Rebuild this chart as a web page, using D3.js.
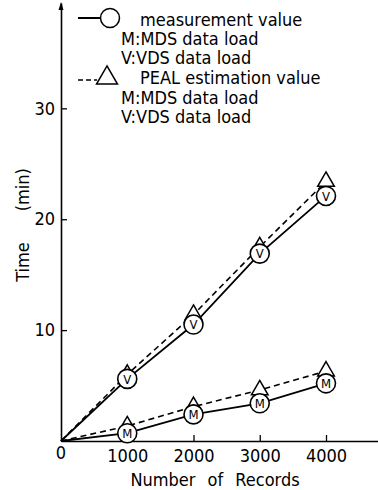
<!DOCTYPE html>
<html>
<head>
<meta charset="utf-8">
<script src="https://cdn.jsdelivr.net/npm/d3@7"></script>
<style>
  body { margin: 0; background: #fff; }
  svg { display: block; }
  text { font-family: "Liberation Sans Narrow", "DejaVu Sans Condensed", "Liberation Sans", sans-serif; fill: #000; }
</style>
</head>
<body>
<script>
// ---- data ----
var records = [0, 1000, 2000, 3000, 4000];
var vdsMeasured = [0, 5.6, 10.5, 16.9, 22.1];
var vdsEstimate = [0, 6.0, 11.4, 17.5, 23.4];
var mdsMeasured = [0, 0.7, 2.4, 3.4, 5.2];
var mdsEstimate = [0, 1.35, 3.1, 4.6, 6.3];
var xTicks = [1000, 2000, 3000, 4000];
var yTicks = [10, 20, 30];
var legendLines = [
    {text: "measurement value", x: 140, y: 20},
    {text: "M:MDS data load", x: 121, y: 39},
    {text: "V:VDS data load", x: 121, y: 58},
    {text: "PEAL estimation value", x: 140, y: 78},
    {text: "M:MDS data load", x: 121, y: 98},
    {text: "V:VDS data load", x: 121, y: 117}
];

var W = 378, H = 490;
var svg = d3.select("body").append("svg")
    .attr("width", W)
    .attr("height", H);

// scales
var x = d3.scaleLinear().domain([0, 4800]).range([61, 379]);
var y = d3.scaleLinear().domain([0, 39.5]).range([441, 3]);

// axes (ticks point inward)
var gx = svg.append("g")
    .attr("transform", "translate(0," + y(0) + ")")
    .call(d3.axisBottom(x).tickValues(xTicks).tickFormat(d3.format("d"))
        .tickSize(-6).tickPadding(5).tickSizeOuter(0));
var gy = svg.append("g")
    .attr("transform", "translate(" + x(0) + ",0)")
    .call(d3.axisLeft(y).tickValues(yTicks).tickSize(-6).tickPadding(6).tickSizeOuter(0));

[gx, gy].forEach(function(g) {
    g.select(".domain").attr("stroke", "#000").attr("stroke-width", 1.6);
    g.selectAll(".tick line").attr("stroke", "#000").attr("stroke-width", 1.3);
    g.selectAll(".tick text").style("font-size", "18px").attr("fill", "#000");
});
gx.selectAll(".tick text").attr("dy", "0.9em");

// lone zero at the origin
svg.append("text")
    .attr("x", x(0))
    .attr("y", y(0) + 18)
    .attr("text-anchor", "middle")
    .style("font-size", "18px")
    .text("0");

// arrow head on y axis
svg.append("path")
    .attr("d", d3.line()([[x(0) - 2.5, 10], [x(0), 2], [x(0) + 2.5, 10]]))
    .attr("fill", "#000");

// axis titles
svg.append("text")
    .attr("x", 215)
    .attr("y", 486)
    .attr("text-anchor", "middle")
    .style("font-size", "18px")
    .style("word-spacing", "7px")
    .text("Number of Records");

svg.append("text")
    .attr("transform", "translate(29,225) rotate(-90)")
    .attr("text-anchor", "middle")
    .style("font-size", "18px")
    .style("white-space", "pre")
    .text("Time      (min)");

// lines
var line = d3.line()
    .x(function(d) { return x(d[0]); })
    .y(function(d) { return y(d[1]); });

function series(vals) {
    return records.map(function(r, i) { return [r, vals[i]]; });
}

[vdsEstimate, mdsEstimate].forEach(function(v) {
    svg.append("path")
        .attr("d", line(series(v)))
        .attr("fill", "none")
        .attr("stroke", "#000")
        .attr("stroke-width", 1.6)
        .attr("stroke-dasharray", "6,4");
});
[vdsMeasured, mdsMeasured].forEach(function(v) {
    svg.append("path")
        .attr("d", line(series(v)))
        .attr("fill", "none")
        .attr("stroke", "#000")
        .attr("stroke-width", 1.8);
});

// triangle markers (estimates), behind circles
var tri = d3.symbol().type(d3.symbolTriangle).size(120);
[vdsEstimate, mdsEstimate].forEach(function(v) {
    svg.selectAll(null)
        .data(series(v).slice(1))
        .join("path")
            .attr("d", tri)
            .attr("transform", function(d) { return "translate(" + x(d[0]) + "," + y(d[1]) + ")"; })
            .attr("fill", "#fff")
            .attr("stroke", "#000")
            .attr("stroke-width", 1.5);
});

// circle markers (measurements)
[[vdsMeasured, "V"], [mdsMeasured, "M"]].forEach(function(s) {
    var g = svg.selectAll(null)
        .data(series(s[0]).slice(1))
        .join("g")
            .attr("transform", function(d) { return "translate(" + x(d[0]) + "," + y(d[1]) + ")"; });
    g.append("circle")
        .attr("r", 9.5)
        .attr("fill", "#fff")
        .attr("stroke", "#000")
        .attr("stroke-width", 1.6);
    g.append("text")
        .attr("text-anchor", "middle")
        .attr("dy", "0.36em")
        .style("font-size", "13px")
        .text(s[1]);
});

// legend
svg.append("line")
    .attr("x1", 78).attr("x2", 101).attr("y1", 18).attr("y2", 18)
    .attr("stroke", "#000").attr("stroke-width", 2);
svg.append("circle")
    .attr("cx", 110).attr("cy", 18).attr("r", 9.5)
    .attr("fill", "#fff").attr("stroke", "#000").attr("stroke-width", 1.5);
svg.append("line")
    .attr("x1", 78).attr("x2", 97).attr("y1", 80).attr("y2", 80)
    .attr("stroke", "#000").attr("stroke-width", 1.5)
    .attr("stroke-dasharray", "5,3");
svg.append("path")
    .attr("d", d3.symbol().type(d3.symbolTriangle).size(190))
    .attr("transform", "translate(107,78)")
    .attr("fill", "#fff").attr("stroke", "#000").attr("stroke-width", 1.5);

svg.selectAll(null)
    .data(legendLines)
    .join("text")
        .attr("x", function(d) { return d.x; })
        .attr("y", function(d) { return d.y; })
        .attr("dy", "0.35em")
        .style("font-size", "18px")
        .text(function(d) { return d.text; });
</script>
</body>
</html>
